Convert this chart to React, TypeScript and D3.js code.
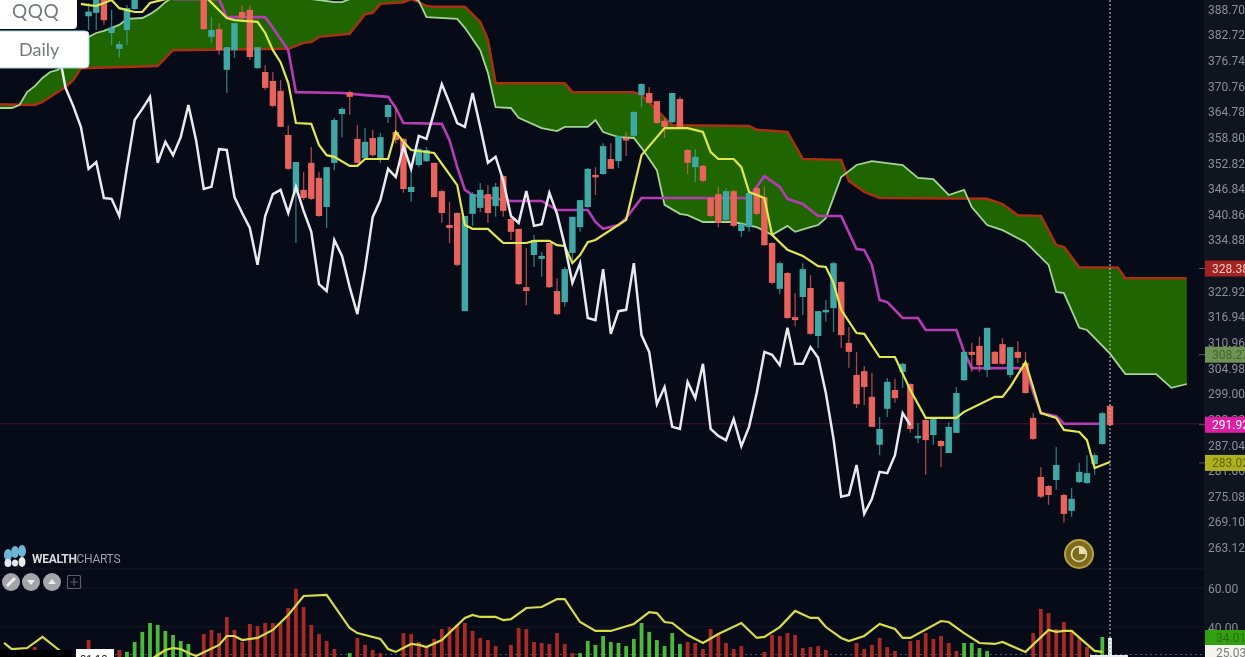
import * as d3 from "d3";
import { useEffect, useRef } from "react";

const WIDTH = 1245;
const HEIGHT = 657;

// daily candles, first one is session 11, null = above the top of the frame
const firstCandle = 11;
const opens = [
  387.0, 387.8, 391.3, 383.1, 379.4, 383.8, 388.7,
  null, null, null, null, null, null, null, null,
  391.7, 382.2, 384.0, 374.5, 379.1, 388.0, 388.5, 374.9, 374.0, 371.9,
  369.6, 359.3, 345.8, 346.5, 352.8, 349.3, 342.5, 352.8, 364.2, 369.3,
  358.4, 353.9, 358.6, 353.9, 363.5, 360.0, 358.4, 346.0, 352.3, 353.2,
  352.8, 346.2, 338.3, 341.1, 318.2, 340.9, 342.3, 345.5, 342.7, 349.7,
  339.7, 337.4, 323.8, 331.3, 330.4, 334.1, 322.9, 320.3, 331.8, 337.8,
  342.5, 350.0, 350.2, 353.7, 353.2, 358.6, 359.1, 368.6, 369.1, 367.2,
  362.6, 362.3, 367.7, 355.8, 351.8, 352.1, 344.6, 345.5, 339.5, 346.2,
  336.9, 337.8, 346.9, 344.8, 334.1, 323.4, 327.1, 316.8, 321.5, 323.6,
  312.4, 318.0, 318.9, 325.0, 310.8, 303.3, 304.2, 298.2, 287.0, 295.4,
  299.8, 304.0, 301.2, 288.8, 292.8, 289.3, 287.9, 285.1, 289.8, 302.1,
  308.7, 310.1, 304.5, 308.7, 310.5, 303.3, 308.7, 306.1, 293.3, 279.5,
  277.4, 278.8, 275.3, 271.6, 278.3, 278.1, 282.5, 287.2, 296.1,
];
const closes = [
  388.1, 390.8, 386.1, 384.3, 380.5, 388.9, 392.0,
  null, null, null, null, null, null, null, null,
  384.0, 383.8, 379.1, 379.8, 385.4, 386.6, 377.5, 379.8, 370.3, 366.1,
  361.2, 351.4, 353.0, 344.6, 344.4, 340.4, 351.8, 362.8, 365.4, 368.2,
  352.8, 357.7, 354.6, 358.8, 366.3, 358.1, 346.7, 347.2, 356.0, 355.8,
  344.8, 341.1, 337.6, 329.0, 340.4, 345.5, 346.5, 341.1, 347.2, 341.6,
  336.7, 324.5, 322.9, 334.8, 331.1, 323.8, 317.5, 328.0, 340.2, 344.1,
  351.4, 349.5, 356.7, 351.4, 359.1, 358.4, 364.7, 371.2, 366.8, 362.1,
  361.2, 369.1, 361.2, 352.8, 354.2, 348.6, 340.4, 338.8, 346.2, 338.1,
  338.5, 345.8, 340.9, 333.6, 324.8, 329.4, 316.6, 316.1, 328.0, 312.9,
  318.2, 318.5, 329.4, 312.6, 308.7, 296.5, 300.5, 291.2, 290.7, 301.7,
  297.9, 305.9, 290.7, 289.1, 288.1, 293.0, 286.7, 291.2, 299.1, 308.7,
  308.0, 305.6, 314.3, 305.9, 305.9, 309.8, 307.3, 299.1, 288.4, 274.9,
  275.3, 282.3, 270.9, 274.4, 280.7, 280.4, 284.6, 294.4, 291.6,
];
const highs = [
  390.1, 391.0, 391.5, 388.5, 381.2, 389.6, 392.3,
  null, null, null, null, null, null, null, null,
  392.0, 386.8, 385.4, 379.8, 385.4, 389.6, 389.6, 379.8, 375.6, 374.0,
  372.1, 361.6, 353.0, 350.7, 356.5, 350.7, 351.8, 363.3, 365.8, 369.6,
  361.6, 360.9, 360.5, 359.8, 366.5, 365.8, 358.6, 350.7, 356.3, 356.5,
  352.8, 346.5, 343.7, 341.3, 340.4, 346.0, 348.1, 347.6, 348.1, 349.9,
  340.6, 337.4, 332.9, 336.0, 332.0, 334.1, 325.9, 328.5, 340.2, 344.1,
  351.6, 351.8, 357.4, 357.4, 359.1, 360.0, 364.7, 371.4, 370.5, 367.2,
  363.3, 369.1, 368.2, 356.0, 356.0, 352.3, 344.8, 347.2, 346.9, 346.5,
  339.0, 346.2, 347.2, 347.2, 334.3, 329.7, 327.3, 322.4, 329.4, 326.6,
  318.2, 320.8, 329.7, 325.2, 314.5, 308.7, 305.4, 303.8, 293.5, 302.6,
  302.4, 306.1, 301.4, 292.1, 293.3, 293.3, 288.1, 292.3, 300.5, 308.7,
  310.8, 312.2, 314.3, 308.9, 311.9, 309.8, 311.2, 308.7, 294.4, 281.8,
  277.6, 286.5, 275.6, 277.0, 282.8, 284.6, 285.1, 294.7, 296.3,
];
const lows = [
  383.8, 383.8, 385.0, 380.3, 377.3, 380.3, 388.5,
  null, null, null, null, null, null, null, null,
  383.8, 380.8, 378.0, 369.1, 377.3, 386.1, 376.8, 374.7, 369.8, 365.8,
  361.2, 351.1, 334.1, 344.1, 344.1, 340.2, 337.6, 351.1, 358.8, 364.0,
  352.8, 353.5, 354.2, 352.8, 362.1, 357.4, 345.8, 343.7, 351.8, 353.0,
  344.8, 338.8, 334.1, 328.7, 318.2, 338.1, 341.3, 338.8, 340.2, 340.2,
  334.8, 324.3, 319.6, 328.5, 326.2, 323.6, 317.3, 319.2, 329.7, 336.7,
  342.3, 345.3, 350.0, 351.4, 351.6, 354.4, 358.8, 365.8, 366.8, 361.9,
  358.6, 362.1, 360.5, 350.2, 348.3, 348.3, 340.2, 337.8, 339.2, 337.8,
  335.5, 336.7, 340.6, 333.4, 324.5, 322.2, 316.4, 314.7, 317.3, 312.6,
  309.6, 315.7, 313.3, 309.6, 305.0, 295.6, 296.3, 291.2, 284.6, 293.5,
  296.8, 300.3, 289.8, 287.4, 280.0, 287.0, 281.8, 285.1, 289.8, 301.9,
  304.0, 304.0, 302.8, 305.9, 305.6, 302.6, 306.1, 298.9, 288.1, 274.6,
  273.0, 276.5, 268.8, 270.2, 278.1, 277.9, 280.0, 287.0, 291.4,
];

// indicator lines: [session, price]
const tenkan: [number, number][] = [
  [10, 389.9], [11, 389.6], [12, 389.4], [14, 390.8], [15, 388.9], [17, 388.0], [18, 388.0], [19, 390.1], [21, 391.0],
  [26, 392.0], [29, 386.6], [30, 386.1], [33, 385.7], [34, 383.1], [35, 379.1], [36, 376.3], [37, 371.4], [38, 362.1],
  [40, 361.9], [41, 357.0], [42, 354.6], [43, 354.2], [45, 352.1], [46, 352.1], [47, 353.7], [50, 353.7], [51, 360.0],
  [52, 357.7], [53, 355.8], [56, 355.1], [59, 347.6], [60, 338.3], [61, 337.4], [63, 337.4], [65, 334.1], [68, 334.1],
  [69, 334.6], [71, 334.6], [72, 333.6], [73, 333.4], [74, 329.4], [75, 331.3], [76, 334.3], [77, 334.8], [81, 339.5],
  [83, 354.6], [86, 360.9], [89, 360.9], [91, 360.0], [92, 355.3], [93, 353.7], [95, 353.7], [96, 351.8], [97, 346.0],
  [99, 344.6], [100, 336.0], [102, 332.5], [104, 331.1], [106, 328.7], [107, 328.5], [108, 324.8], [109, 318.5],
  [111, 313.1], [112, 312.9], [114, 307.5], [116, 307.5], [118, 299.8], [120, 293.3], [124, 293.3], [125, 294.7],
  [129, 298.2], [130, 298.2], [131, 300.5], [133, 306.3], [135, 294.4], [137, 293.3], [138, 290.5], [140, 290.0],
  [141, 288.1], [142, 281.6], [144, 283.02],
];
const kijun: [number, number][] = [
  [22, 391.0], [28, 391.0], [29, 386.8], [30, 386.8], [34, 386.8], [35, 384.3], [37, 379.1], [38, 369.3], [44, 369.1],
  [47, 368.6], [50, 368.2], [51, 365.6], [52, 362.1], [57, 361.9], [58, 358.1], [59, 351.8], [60, 346.5], [61, 345.3],
  [66, 343.9], [70, 343.9], [72, 341.8], [76, 341.8], [77, 339.0], [78, 337.4], [80, 338.3], [81, 339.9], [83, 344.6],
  [97, 344.6], [98, 347.2], [99, 349.7], [101, 347.2], [102, 344.4], [104, 343.2], [106, 340.4], [109, 340.4],
  [111, 332.7], [112, 332.5], [113, 329.0], [114, 320.8], [115, 320.3], [117, 316.6], [119, 316.6], [120, 313.8],
  [124, 313.8], [125, 308.7], [126, 304.9], [132, 304.9], [133, 304.5], [134, 299.3], [135, 294.4], [137, 293.7],
  [138, 291.92], [143, 291.92],
];
const senkouB: [number, number][] = [
  [-1, 366.5], [4, 366.3], [5, 367.0], [8, 370.5], [9, 372.1], [10, 374.9], [20, 375.4], [21, 377.3], [22, 379.1],
  [37, 379.4], [38, 380.1], [39, 380.8], [40, 381.0], [41, 382.2], [45, 382.9], [46, 385.2], [47, 387.5], [48, 387.8],
  [49, 389.9], [52, 390.3], [53, 391.0], [54, 390.3], [55, 389.4], [56, 389.2], [60, 389.2], [62, 385.7], [63, 381.5],
  [64, 371.4], [73, 371.4], [74, 369.3], [82, 369.3], [83, 368.6], [86, 363.3], [87, 361.6], [97, 361.4], [98, 360.5],
  [102, 360.0], [104, 353.7], [109, 353.5], [110, 348.6], [112, 346.0], [114, 344.6], [128, 344.4], [130, 343.2],
  [132, 340.6], [135, 340.4], [137, 333.6], [138, 333.2], [140, 328.38], [145, 328.38], [146, 325.9], [154, 325.9],
];
const senkouA: [number, number][] = [
  [-1, 365.6], [1, 365.6], [2, 366.3], [3, 369.3], [4, 370.7], [5, 372.6], [6, 374.0], [7, 374.5], [8, 376.3],
  [11, 382.2], [12, 383.1], [13, 383.6], [15, 385.0], [16, 386.4], [18, 386.6], [19, 387.5], [20, 388.7], [21, 390.3],
  [22, 391.5], [40, 391.0], [41, 390.8], [43, 390.3], [44, 390.3], [45, 391.0], [48, 391.0], [53, 391.5], [54, 390.6],
  [55, 386.8], [59, 386.4], [60, 384.3], [62, 379.1], [63, 373.8], [64, 365.8], [66, 365.6], [67, 363.3], [70, 360.9],
  [72, 360.2], [73, 361.2], [76, 361.2], [77, 362.8], [78, 360.0], [80, 358.8], [82, 358.6], [83, 356.3], [85, 351.1],
  [86, 343.0], [88, 340.9], [89, 340.6], [91, 339.0], [95, 339.0], [98, 337.8], [100, 336.0], [102, 338.1], [103, 336.7],
  [105, 337.8], [106, 338.3], [107, 339.9], [109, 349.5], [111, 352.3], [113, 353.2], [117, 352.3], [119, 349.3],
  [121, 349.0], [123, 345.3], [125, 346.5], [126, 342.5], [128, 338.3], [130, 337.1], [133, 334.3], [136, 329.0],
  [137, 322.7], [138, 322.4], [140, 314.3], [141, 313.8], [144, 308.27], [146, 303.5], [150, 303.5], [152, 300.3], [154, 301.2],
];

// lower pane, one bar per session from session 0, null = no bar
const histValues = [
  null, null, null, null, 29.6, null, null, null, null, null,
  null, 33.2, null, null, null, 28.1, 27.1, 32.2, 37.4, 42.0,
  41.0, 37.9, 35.8, 32.7, 31.2, null, 36.3, 38.4, 36.8, 45.1,
  38.4, 32.2, 41.5, 40.4, 42.0, 42.0, 42.0, 49.7, 59.5, 50.2,
  41.0, 36.3, 32.7, 28.6, null, 26.5, 34.3, 30.7, 28.1, 26.5,
  null, null, 36.8, 36.3, 32.2, 29.6, 33.8, 38.9, 39.9, 41.0,
  42.0, 37.9, 34.3, 33.2, 30.1, null, 30.7, 39.4, 38.9, 32.2,
  31.7, 31.2, 36.8, 31.2, 26.5, 26.5, 32.7, 30.7, 35.3, 32.2,
  31.7, 30.1, 33.8, 42.0, 37.4, 33.2, 30.1, 36.8, 31.2, 32.2,
  31.7, 28.6, 38.9, 36.3, 31.7, 28.6, 30.1, null, null, 27.1,
  35.8, 35.3, 36.8, 35.8, 29.1, 29.6, 30.1, 28.1, null, null,
  null, 31.7, 28.6, 30.7, 34.3, 29.6, 27.6, null, 32.7, 33.2,
  36.8, 33.8, 35.3, 31.7, 27.6, 31.7, 31.7, 29.1, 27.6, null,
  null, null, null, null, 36.8, 49.2, 47.1, 38.9, 42.5, 38.4,
  34.3, 29.6, null, 34.8, 34.3,
];
const greenBars = [16, 17, 18, 19, 20, 21, 22, 23, 24, 45, 75, 76, 77, 78, 79, 80, 81, 82, 83, 84, 85, 86, 87, 88, 125, 126, 127, 128, 143];
const signalLine: [number, number][] = [
  [0, 31.7], [1, 28.6], [3, 29.1], [5, 34.8], [7, 28.6], [8, 25.5], [9, 22.9], [19, 22.9], [20, 25.5], [21, 28.1],
  [22, 29.1], [23, 28.6], [24, 26.5], [25, 25.0], [28, 30.7], [29, 35.3], [30, 35.3], [31, 33.2], [33, 34.3], [35, 38.4],
  [37, 46.1], [39, 55.9], [42, 56.4], [45, 39.4], [46, 36.8], [49, 33.8], [50, 28.6], [51, 27.1], [53, 31.2], [54, 30.7],
  [55, 29.6], [57, 33.2], [60, 44.6], [61, 46.1], [62, 45.1], [64, 45.1], [65, 43.5], [66, 44.0], [68, 49.7], [70, 50.2],
  [72, 54.3], [73, 54.3], [75, 42.5], [77, 37.9], [79, 37.9], [82, 41.5], [84, 47.6], [85, 47.1], [86, 42.5], [87, 42.0],
  [89, 35.8], [91, 31.7], [93, 36.3], [96, 42.0], [98, 34.3], [99, 34.8], [101, 39.9], [103, 48.2], [105, 44.6], [106, 44.6],
  [107, 39.9], [109, 34.3], [110, 32.7], [112, 35.3], [114, 41.5], [116, 38.9], [117, 34.3], [118, 34.3], [122, 43.0],
  [123, 42.5], [125, 36.8], [127, 31.7], [129, 31.2], [130, 32.2], [133, 27.1], [136, 38.4], [137, 37.4], [138, 37.9],
  [139, 37.9], [142, 27.6], [143, 27.1],
];

const priceTicks = [388.7, 382.72, 376.74, 370.76, 364.78, 358.8, 352.82, 346.84, 340.86, 334.88, 328.9, 322.92, 316.94, 310.96, 304.98, 299.0, 293.02, 287.04, 281.06, 275.08, 269.1, 263.12];
const paneTicks = [60, 40];
const lastPrice = 291.92;
const LAG = 26;

const tags = [
  { value: "328.38", price: 328.38, fill: "#a32222", text: "#f2c8c4" },
  { value: "308.27", price: 308.27, fill: "#6f9355", text: "#3f6a2a" },
  { value: "291.92", price: 291.92, fill: "#df1fa3", text: "#ffffff" },
  { value: "283.02", price: 283.02, fill: "#aeb01e", text: "#62640f" },
];

const BG = "#070b18";
const PANEL = "#10141f";
const UP = "#3fa8a4";
const DOWN = "#e8635c";

export default function App() {
  const priceAxis = useRef<SVGGElement>(null);
  const paneAxis = useRef<SVGGElement>(null);

  const x = d3.scaleLinear().domain([0, 144]).range([4.08, 1110]);
  const y = d3.scaleLinear().domain([388.7, 263.12]).range([9, 547.2]);
  const yPane = d3.scaleLinear().domain([60, 25]).range([588, 656]);

  const candles = opens.flatMap((open, k) =>
    open === null
      ? []
      : [{ i: firstCandle + k, open, close: closes[k] as number, high: highs[k] as number, low: lows[k] as number }]
  );

  const priceLine = d3
    .line<[number, number]>()
    .x((d) => x(d[0]))
    .y((d) => y(d[1]));
  const paneLine = d3
    .line<[number, number]>()
    .x((d) => x(d[0]))
    .y((d) => yPane(d[1]));

  // lagging span is just the closes moved back
  const lagging: [number, number][] = candles
    .filter((c) => c.i >= 33)
    .map((c) => [c.i - LAG, c.close]);

  const cloud = [...senkouA, ...[...senkouB].reverse()];

  useEffect(() => {
    const style = (g: any) => {
      g.select(".domain").remove();
      g.selectAll(".tick line").remove();
      g.selectAll(".tick text")
        .attr("x", 0)
        .attr("dy", "0.36em")
        .attr("fill", "#8b8e96")
        .attr("font-family", "Roboto")
        .attr("font-size", 12);
    };
    d3.select(priceAxis.current as SVGGElement)
      .call(d3.axisRight(y).tickValues(priceTicks).tickFormat((d) => (d as number).toFixed(2)))
      .call(style);
    d3.select(paneAxis.current as SVGGElement)
      .call(d3.axisRight(yPane).tickValues(paneTicks).tickFormat((d) => (d as number).toFixed(2)))
      .call(style);
  }, []);

  return (
    <svg
      width={WIDTH}
      height={HEIGHT}
      style={{ position: "fixed", left: 0, top: 0, display: "block" }}
    >
      <rect width={WIDTH} height={HEIGHT} fill={BG} />
      <rect x={1204} width={41} height={HEIGHT} fill={PANEL} />

      {/* video frame is a little soft */}
      <g style={{ filter: "blur(0.45px)" }}>
        {/* faint pane grid */}
        {[569, ...paneTicks.map((t) => yPane(t))].map((gy) => (
          <line key={gy} x1={0} x2={1204} y1={gy} y2={gy} stroke="#161a27" />
        ))}
        <line x1={0} x2={1204} y1={654.5} y2={654.5} stroke="#6f7480" strokeDasharray="2 3" opacity={0.7} />

        {/* cloud */}
        <path d={priceLine(cloud) as string} fill="#1f6600" />
        <path d={priceLine(senkouB) as string} fill="none" stroke="#aa2f14" strokeWidth={2.5} />
        <path d={priceLine(senkouA) as string} fill="none" stroke="#a4d49a" strokeWidth={1.8} />

        <line x1={0} x2={1204} y1={y(lastPrice)} y2={y(lastPrice)} stroke="#4a1030" />
        <path d={priceLine(kijun) as string} fill="none" stroke="#b63cb6" strokeWidth={2.6} />

        {/* lower pane */}
        {histValues.map((v, i) =>
          v === null ? null : (
            <rect
              key={i}
              x={x(i) - 1.9}
              y={yPane(v)}
              width={3.8}
              height={HEIGHT - yPane(v)}
              fill={i === 144 ? "#f0f2f4" : greenBars.includes(i) ? "#4cb83c" : "#a82a22"}
            />
          )
        )}
        <path d={paneLine(signalLine) as string} fill="none" stroke="#d8dc48" strokeWidth={2.2} />

        {/* candles */}
        {candles.map((c) => {
          const color = c.close >= c.open ? UP : DOWN;
          const top = y(Math.max(c.open, c.close));
          const bottom = y(Math.min(c.open, c.close));
          return (
            <g key={c.i}>
              <line x1={x(c.i)} x2={x(c.i)} y1={y(c.high)} y2={y(c.low)} stroke={color} strokeWidth={1.3} opacity={0.7} />
              <rect x={x(c.i) - 3.2} y={top} width={6.4} height={Math.max(bottom - top, 2.5)} fill={color} />
            </g>
          );
        })}

        <path d={priceLine(tenkan) as string} fill="none" stroke="#e2e84c" strokeWidth={2.2} />
        <path d={priceLine(lagging) as string} fill="none" stroke="#e8eaf0" strokeWidth={2.5} />

        {/* crosshair */}
        <line x1={x(144)} x2={x(144)} y1={0} y2={HEIGHT} stroke="#aab0bb" strokeWidth={1.2} strokeDasharray="2 2" />
        <rect x={1090} y={655} width={38} height={2} fill="#e8eaee" />

        {/* axes */}
        <g ref={priceAxis} transform="translate(1208,0)" />
        <g ref={paneAxis} transform="translate(1208,0)" />
        {tags.map((t) => (
          <g key={t.value}>
            <line x1={1199} x2={1205} y1={y(t.price) + 1} y2={y(t.price) + 1} stroke="#565a66" />
            <rect x={1205} y={y(t.price) - 7} width={40} height={16} fill={t.fill} />
            <text x={1212} y={y(t.price) + 5.5} fill={t.text} fontFamily="Roboto" fontSize={12}>
              {t.value}
            </text>
          </g>
        ))}
        <rect x={1205} y={630} width={40} height={15} fill="#30a010" />
        <text x={1216} y={642} fill="#2c6a12" fontFamily="Roboto" fontSize={12}>
          34.01
        </text>
        <rect x={1205} y={645} width={40} height={12} fill="#f4f5ee" />
        <text x={1216} y={657} fill="#7c7f80" fontFamily="Roboto" fontSize={12}>
          25.03
        </text>

        {/* symbol boxes */}
        <rect x={-10} y={-8} width={87} height={37} rx={4} fill="#ffffff" />
        <text x={12} y={18} fill="#74777b" fontFamily="Lato" fontSize={19} letterSpacing={0.6}>
          QQQ
        </text>
        <rect x={-10} y={31} width={99} height={37} rx={4} fill="#ffffff" stroke="#9ad6d2" />
        <text x={19} y={56} fill="#74777b" fontFamily="Lato" fontSize={18}>
          Daily
        </text>

        {/* logo */}
        <g fill="#6db5d6">
          <ellipse cx={8} cy={555} rx={4} ry={6} />
          <ellipse cx={15} cy={552} rx={4} ry={6} />
          <ellipse cx={22} cy={551} rx={4} ry={6} />
        </g>
        <g fill="#e8eaee">
          <ellipse cx={8} cy={563} rx={3.5} ry={4} />
          <ellipse cx={15} cy={563} rx={3} ry={3.5} />
          <ellipse cx={22} cy={562} rx={3.5} ry={5} />
        </g>
        <text x={32} y={563} fontFamily="Roboto" fontSize={12} letterSpacing={-0.3}>
          <tspan fill="#d8dadd" fontWeight={700}>WEALTH</tspan>
          <tspan fill="#9a9ea6">CHARTS</tspan>
        </text>

        {/* chart buttons */}
        {[11, 31, 52].map((cx) => (
          <circle key={cx} cx={cx} cy={582} r={9} fill="#a3a5ab" />
        ))}
        <path d="M7,586 L15,578" stroke="#ececee" strokeWidth={3} />
        <path d="M27,580 h8 l-4,5 z" fill="#ececee" />
        <path d="M48,584 h8 l-4,-5 z" fill="#ececee" />
        <rect x={67.5} y={575.5} width={13} height={13} rx={1} fill="none" stroke="#5a5d66" strokeWidth={1.2} />
        <path d="M74,578 v8 M70,582 h8" stroke="#5a5d66" strokeWidth={1.2} />

        {/* clock */}
        <circle cx={1079} cy={554} r={14} fill="#7d6c1e" stroke="#b6a33d" strokeWidth={2} />
        <circle cx={1079} cy={554} r={7.5} fill="none" stroke="#e6deb0" strokeWidth={1.6} />
        <path d="M1079,547 v7 h7 a7,7 0 0 0 -7,-7 z" fill="#e6deb0" />

        {/* player bar at the bottom */}
        <rect x={0} y={650} width={72} height={7} fill="#000000" />
        <rect x={76} y={649} width={38} height={10} fill="#ffffff" />
        <text x={80} y={663} fill="#111111" fontFamily="Roboto" fontSize={11}>
          01:10
        </text>
      </g>
    </svg>
  );
}
